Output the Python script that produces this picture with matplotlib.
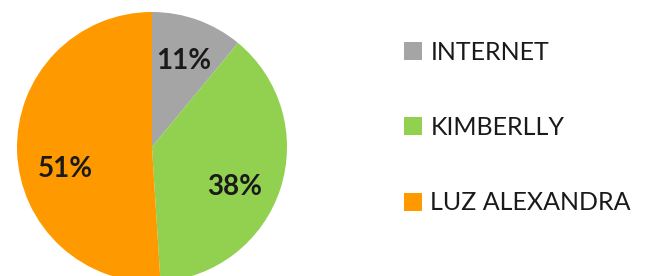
import matplotlib.pyplot as plt
from matplotlib.patches import Patch
import numpy as np

labels = ["INTERNET", "KIMBERLLY", "LUZ ALEXANDRA"]
values = [11, 38, 51]
colors = ["#A5A5A5", "#92D050", "#FF9900"]

plt.rcParams['font.family'] = ['Lato', 'DejaVu Sans']

fig = plt.figure(figsize=(6.49, 2.76), dpi=100)
W, H = 649, 276
cx, cy, r = 152, 147, 135
ax = fig.add_axes([(cx - r) / W, (H - cy - r) / H, 2 * r / W, 2 * r / H])

wedges, texts, autotexts = ax.pie(values, colors=colors, startangle=90, counterclock=False,
                                  autopct='%1.0f%%', pctdistance=0.68,
                                  wedgeprops=dict(linewidth=0),
                                  textprops=dict(fontsize=20, fontweight='bold', color='#1a1a1a'))
ax.set_xlim(-1, 1)
ax.set_ylim(-1, 1)
ax.set_aspect('equal')

# Excel-like label placement (angle in degrees, distance as fraction of radius)
label_pos = [(70, 0.68), (-26, 0.68), (194, 0.66)]
for t, (ang, d) in zip(autotexts, label_pos):
    a = np.deg2rad(ang)
    t.set_position((d * np.cos(a), d * np.sin(a)))

handles = [Patch(facecolor=c, edgecolor='none') for c in colors]
fig.legend(handles, labels, loc='upper left', bbox_to_anchor=(381 / W, 1 - 18 / H),
           frameon=False, fontsize=18, labelspacing=2.1, handlelength=0.72,
           handleheight=0.72, handletextpad=0.35, labelcolor='#1a1a1a')

fig.savefig("out.png", dpi=100)
